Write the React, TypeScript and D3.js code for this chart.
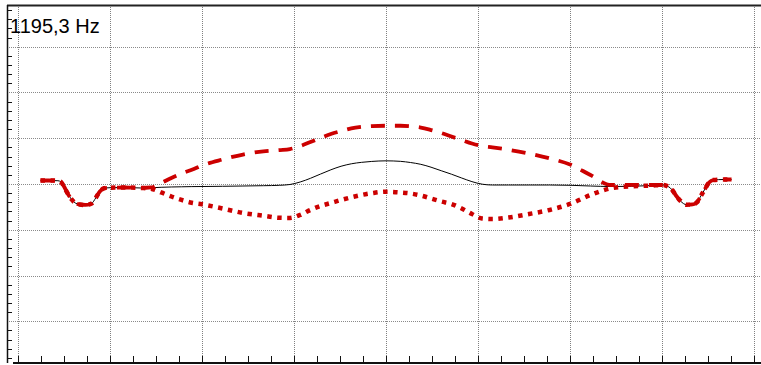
import React from "react";
import * as d3 from "d3";

const W = 761;
const H = 365;

const title = "1195,3 Hz";

// angle in degrees (shared sample positions)
const angles = [
  11, 15, 19.5, 21, 22.5, 24, 26, 28, 30, 33, 36, 38, 40, 42, 45, 52, 60, 65, 70, 75, 80, 85, 90,
  100, 110, 120, 128, 133, 138, 143, 148, 153, 158, 163, 168, 173, 180, 187, 192, 197, 202, 207,
  212, 217, 222, 227, 232, 240, 250, 260, 270, 280, 290, 300, 310, 315, 318, 320, 322, 324, 327,
  330, 332, 334, 336, 338, 340, 345, 349,
];

const solidSeries = [
  0.76, 0.76, 0.72, 0.44, -0.55, -1.85, -3.27, -4.15, -4.47, -4.58, -4.25, -3.05, -1.64, -0.94,
  -0.81, -0.76, -0.87, -0.83, -0.72, -0.65, -0.61, -0.57, -0.55, -0.5, -0.44, -0.37, -0.28, -0.11,
  0.44, 1.24, 2.18, 3.1, 3.88, 4.41, 4.73, 4.93, 5.06, 4.95, 4.69, 4.3, 3.67, 2.9, 2.14, 1.31,
  0.52, -0.04, -0.22, -0.22, -0.22, -0.22, -0.28, -0.44, -0.55, -0.5, -0.33, -0.22, -0.55, -1.31,
  -2.62, -3.71, -4.52, -4.47, -4.04, -2.62, -1.09, 0.33, 0.87, 0.98, 0.98,
];

const dashedSeries = [
  0.76, 0.76, 0.72, 0.44, -0.55, -1.85, -3.27, -4.15, -4.47, -4.58, -4.25, -3.05, -1.64, -0.94,
  -0.81, -0.76, -0.87, -0.76, 0.22, 1.31, 2.29, 3.1, 4.04, 5.35, 6.44, 7.14, 7.42, 7.64, 8.29,
  9.16, 10.04, 10.91, 11.56, 12.15, 12.48, 12.66, 12.72, 12.72, 12.61, 12.33, 11.78, 11.13, 10.36,
  9.6, 8.84, 8.29, 8.01, 7.48, 6.66, 5.61, 4.25, 1.96, -0.22, -0.17, -0.22, -0.22, -0.55, -1.31,
  -2.62, -3.71, -4.52, -4.47, -4.04, -2.62, -1.09, 0.33, 0.87, 0.98, 0.98,
];

const dottedSeries = [
  0.76, 0.76, 0.72, 0.44, -0.55, -1.85, -3.27, -4.15, -4.47, -4.58, -4.25, -3.05, -1.64, -0.94,
  -0.81, -0.76, -0.87, -1.03, -1.85, -2.73, -3.49, -4.1, -4.43, -5.35, -6.33, -6.94, -7.38, -7.42,
  -6.76, -5.67, -4.8, -4.15, -3.49, -2.9, -2.4, -2.01, -1.68, -1.85, -2.07, -2.51, -3.16, -3.82,
  -4.36, -5.35, -6.55, -7.53, -7.64, -7.31, -6.55, -5.67, -4.36, -2.4, -0.94, -0.5, -0.33, -0.22,
  -0.55, -1.31, -2.62, -3.71, -4.52, -4.47, -4.04, -2.62, -1.09, 0.33, 0.87, 0.98, 0.98,
];

const xGrid = [0, 45, 90, 135, 180, 225, 270, 315, 360];
const yGrid = [-30, -20, -10, 0, 10, 20, 30];
const xMinorStep = 11.25;
const yMinorStep = 2;

const X_DOMAIN: [number, number] = [-5.4, 363.4];
const Y_DOMAIN: [number, number] = [-39.1, 39.1];

export default function App() {
  const left = 7;
  const right = 761;
  const top = 5;
  const bottom = 363;
  const x = d3.scaleLinear().domain(X_DOMAIN).range([left, right]);
  const y = d3.scaleLinear().domain(Y_DOMAIN).range([bottom, top]);

  const line = (vals: number[]) =>
    d3
      .line<number>()
      .x((_, i) => x(angles[i]))
      .y((v) => y(v))
      .curve(d3.curveMonotoneX)(vals) || "";

  const xMinor = d3.range(0, 360 + 0.01, xMinorStep);
  const yMinor = d3.range(-38, 39, yMinorStep).filter((v) => Math.abs(v % 10) > 0.01);

  const red = "#cc0000";

  return (
    <svg
      width={W}
      height={H}
      style={{ position: "absolute", left: 0, top: 0, background: "#fff" }}
    >
      {/* grid */}
      {yGrid.map((v) => (
        <line
          key={"hy" + v}
          x1={left}
          x2={right}
          y1={Math.round(y(v)) + 0.5}
          y2={Math.round(y(v)) + 0.5}
          stroke="#8a8a8a"
          strokeWidth={1}
          strokeDasharray="1,1"
        />
      ))}
      {xGrid.map((v) => (
        <line
          key={"vx" + v}
          x1={Math.round(x(v)) + 0.5}
          x2={Math.round(x(v)) + 0.5}
          y1={top}
          y2={bottom}
          stroke="#808080"
          strokeWidth={1}
          strokeDasharray="1,1"
        />
      ))}

      {/* series */}
      <path d={line(solidSeries)} fill="none" stroke="#000" strokeWidth={1} />
      <path
        d={line(dashedSeries)}
        fill="none"
        stroke={red}
        strokeWidth={3.8}
        strokeDasharray="14,10"
      />
      <path
        d={line(dottedSeries)}
        fill="none"
        stroke={red}
        strokeWidth={4.5}
        strokeDasharray="4.5,5.5"
      />

      {/* frame */}
      <line x1={left} x2={right} y1={top + 0.5} y2={top + 0.5} stroke="#222" strokeWidth={2} />
      <line x1={left + 0.5} x2={left + 0.5} y1={top} y2={bottom} stroke="#111" strokeWidth={1.5} />
      <line x1={13} x2={right} y1={bottom} y2={bottom} stroke="#111" strokeWidth={2} />

      {/* minor ticks */}
      {yMinor.map((v) => (
        <line
          key={"ty" + v}
          x1={left}
          x2={left + 5}
          y1={Math.round(y(v)) + 0.5}
          y2={Math.round(y(v)) + 0.5}
          stroke="#111"
          strokeWidth={1}
        />
      ))}
      {xMinor.map((v) => (
        <line
          key={"tx" + v}
          x1={Math.round(x(v)) + 0.5}
          x2={Math.round(x(v)) + 0.5}
          y1={bottom - 7}
          y2={bottom}
          stroke="#111"
          strokeWidth={1}
        />
      ))}

      <text
        x={10}
        y={33}
        fontFamily="'Liberation Sans', Arial, sans-serif"
        fontSize={20}
        fill="#000"
      >
        {title}
      </text>
    </svg>
  );
}
